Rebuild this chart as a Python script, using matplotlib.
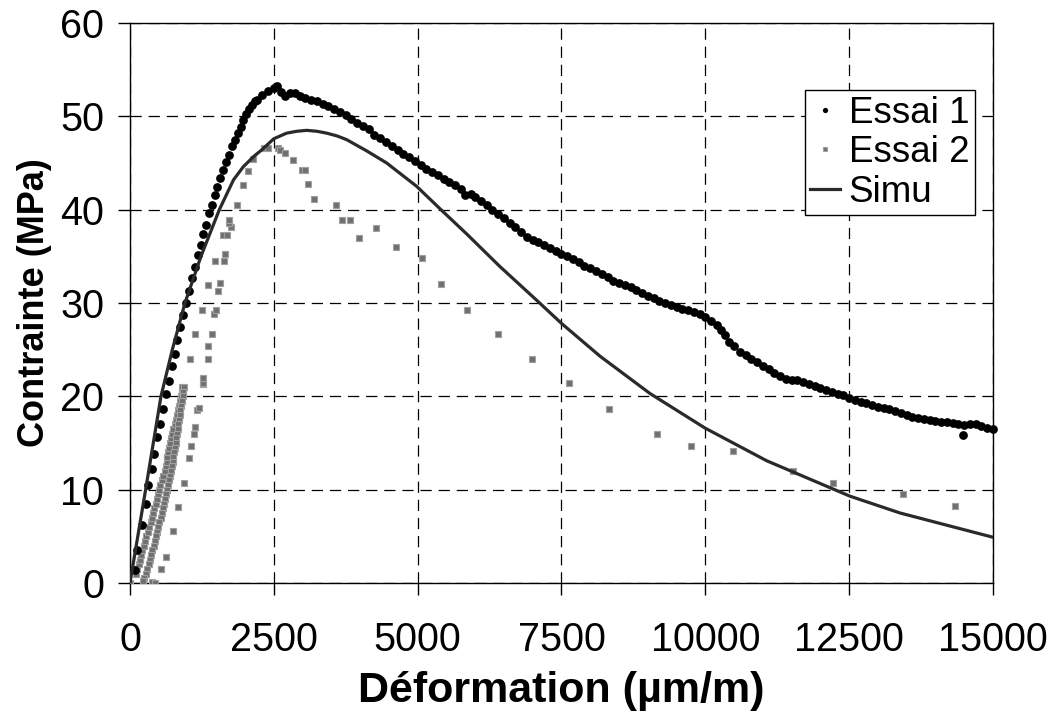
import matplotlib
matplotlib.use("Agg")
import matplotlib.pyplot as plt

## ----------------------------------------------------------------------------
## Data
## ----------------------------------------------------------------------------
## Essai 1 : black dots (rising part spaced, falling part dense)
essai1_x = [87, 116, 203, 272, 318, 377, 423, 475, 527, 579, 631, 678, 730,
            777, 822, 875, 921, 973, 1026, 1078, 1130, 1176, 1228, 1274, 1321,
            1373, 1420, 1472, 1516, 1564, 1611, 1663, 1721, 1773, 1825, 1877,
            1924, 1970, 2016, 2068, 2121, 2173,
            2200, 2300, 2400, 2500, 2560, 2620, 2700, 2780, 2860, 2950, 3050,
            3150, 3250, 3350, 3450, 3550, 3650, 3750, 3850, 3950, 4050, 4150,
            4250, 4350, 4450, 4550, 4650, 4750, 4850, 4950, 5050, 5150, 5250,
            5350, 5450, 5550, 5650, 5750, 5830, 5920, 6000, 6100, 6200, 6300,
            6400, 6500, 6600, 6700, 6800, 6900, 7000, 7100, 7200, 7300, 7400,
            7500, 7600, 7700, 7800, 7900, 8000, 8100, 8200, 8300, 8400, 8500,
            8600, 8700, 8800, 8900, 9000, 9100, 9200, 9300, 9400, 9500, 9600,
            9700, 9800, 9900, 10000, 10100, 10200, 10280, 10340, 10420, 10500,
            10600, 10700, 10800, 10900, 11000, 11100, 11200, 11300, 11400,
            11500, 11600, 11700, 11800, 11900, 12000, 12100, 12200, 12300,
            12400, 12500, 12600, 12700, 12800, 12900, 13000, 13100, 13200,
            13300, 13400, 13500, 13600, 13700, 13800, 13900, 14000, 14100,
            14200, 14300, 14400, 14480, 14500, 14600, 14700, 14800, 14900, 15000]
essai1_y = [1.4, 3.5, 6.2, 8.5, 10.5, 12.2, 13.8, 15.6, 17.0, 18.6, 20.2, 21.6,
            23.2, 24.5, 26.0, 27.4, 28.7, 30.0, 31.3, 32.7, 33.9, 35.1, 36.2,
            37.4, 38.4, 39.6, 40.5, 41.6, 42.4, 43.4, 44.2, 45.1, 45.9, 46.8,
            47.5, 48.2, 48.9, 49.6, 50.2, 50.8, 51.2, 51.6,
            51.8, 52.3, 52.7, 53.0, 53.2, 52.6, 52.2, 52.5, 52.5, 52.2, 52.0,
            51.8, 51.6, 51.3, 51.1, 50.8, 50.5, 50.1, 49.7, 49.3, 49.0, 48.6,
            48.0, 47.7, 47.3, 46.8, 46.4, 46.0, 45.6, 45.2, 44.8, 44.4, 44.0,
            43.7, 43.3, 43.0, 42.6, 42.2, 41.6, 41.7, 41.4, 40.9, 40.5, 40.0,
            39.5, 39.1, 38.6, 38.1, 37.6, 37.1, 36.8, 36.5, 36.2, 35.9, 35.6,
            35.3, 35.0, 34.7, 34.4, 34.0, 33.7, 33.4, 33.1, 32.8, 32.4, 32.1,
            31.9, 31.7, 31.4, 31.1, 30.8, 30.5, 30.2, 30.0, 29.8, 29.6, 29.4,
            29.2, 29.0, 28.8, 28.5, 28.1, 27.6, 27.1, 26.6, 25.8, 25.4,
            24.8, 24.4, 24.0, 23.7, 23.3, 22.9, 22.5, 22.2, 21.9,
            21.8, 21.7, 21.5, 21.3, 21.1, 20.9, 20.7, 20.5, 20.3,
            20.1, 19.8, 19.6, 19.4, 19.3, 19.1, 18.9, 18.8, 18.6,
            18.4, 18.2, 18.0, 17.8, 17.7, 17.6, 17.5, 17.4, 17.3,
            17.2, 17.1, 17.0, 15.9, 16.9, 17.0, 17.0, 16.8, 16.6, 16.5]

## Essai 2 : grey squares, first the loading/unloading loop near the origin
loop_up_x = [100, 125, 150, 172, 194, 216, 238, 258, 282, 308, 335, 362, 386,
             406, 426, 446, 466, 488, 510, 530, 550, 572, 604, 620, 636, 652,
             668, 684, 700, 718, 736, 756, 776, 796, 816, 840, 854, 868, 882,
             896, 909]
loop_up_y = [1.0, 1.5, 2.0, 2.5, 3.0, 3.5, 4.0, 4.5, 5.0, 5.5, 6.0, 6.5, 7.0,
             7.5, 8.0, 8.5, 9.0, 9.5, 10.0, 10.5, 11.0, 11.5, 12.0, 12.5, 13.0,
             13.5, 14.0, 14.5, 15.0, 15.5, 16.0, 16.5, 17.0, 17.5, 18.0, 18.5,
             19.0, 19.5, 20.0, 20.5, 21.0]
loop_down_x = [940, 929, 916, 903, 890, 877, 864, 852, 840, 828, 816, 804, 792,
               780, 766, 753, 740, 726, 712, 698, 681, 663, 645, 626, 608, 590,
               571, 551, 531, 511, 491, 471, 451, 430, 410, 390, 369, 348, 324,
               298, 272, 245, 232]
loop_down_y = [21.0, 20.5, 20.0, 19.5, 19.0, 18.5, 18.0, 17.5, 17.0, 16.5,
               16.0, 15.5, 15.0, 14.5, 14.0, 13.5, 13.0, 12.5, 12.0, 11.5, 11.0,
               10.5, 10.0, 9.5, 9.0, 8.5, 8.0, 7.5, 7.0, 6.5, 6.0, 5.5, 5.0, 4.5,
               4.0, 3.5, 3.0, 2.5, 2.0, 1.5, 1.0, 0.5, 0.2]

## then the scattered points of the reloading and softening
essai2_x = [0, 377, 435, 539, 620, 753, 840, 944, 1031, 1054, 1118, 1124, 1159,
            1199, 1275, 1269, 1263, 1043, 1135, 1246, 1356, 1361, 1424, 1465,
            1500, 1361, 1523, 1558, 1477, 1633, 1656, 1616, 1691, 1755, 1721,
            1721, 1860, 1958, 2056, 2143, 2329, 2404, 2567, 2607, 2694, 2839,
            2984, 3042, 3100, 3193, 3580, 3678, 3830, 3974, 4276, 4624, 5070,
            5410, 5852, 6397, 6988, 7631, 8320, 9160, 9745, 10487, 11517,
            12212, 13442, 14335]
essai2_y = [0.0, 0.1, 0.0, 1.5, 2.8, 5.6, 8.1, 10.7, 13.4, 14.7, 16.0, 16.7,
            18.5, 18.8, 21.3, 21.4, 22.0, 24.0, 26.7, 29.2, 24.0, 25.4, 26.7,
            28.8, 29.3, 31.9, 31.3, 32.1, 34.5, 34.5, 35.3, 37.3, 37.3, 38.1,
            38.6, 38.9, 40.5, 42.6, 44.1, 45.4, 46.6, 46.6, 46.6, 46.4, 46.1,
            45.3, 44.3, 44.3, 42.8, 41.1, 40.5, 38.9, 38.9, 37.0, 38.0, 36.0,
            34.8, 32.0, 29.2, 26.7, 24.0, 21.4, 18.6, 16.0, 14.7, 14.1, 12.0,
            10.7, 9.5, 8.2]

## Simu : smooth curve
simu_x = [0, 272, 539, 736, 956, 1234, 1553, 1800, 1970, 2150, 2289, 2500,
          2723, 2900, 3071, 3250, 3419, 3600, 3767, 4114, 4462, 4983, 5388,
          5852, 6431, 7068, 7503, 8170, 9039, 9995, 11066, 12515, 13385, 15000]
simu_y = [0.0, 10.0, 20.0, 25.0, 30.0, 35.0, 40.0, 43.2, 44.6, 45.7, 46.4,
          47.6, 48.2, 48.4, 48.5, 48.4, 48.2, 47.9, 47.5, 46.3, 45.0, 42.5,
          40.1, 37.4, 33.9, 30.3, 27.8, 24.3, 20.3, 16.6, 13.1, 9.3, 7.5, 4.9]

x_ticks = [0, 2500, 5000, 7500, 10000, 12500, 15000]
y_ticks = [0, 10, 20, 30, 40, 50, 60]


## ----------------------------------------------------------------------------
## Plot
## ----------------------------------------------------------------------------
def main():
    plt.rcParams['font.family'] = ['Liberation Sans', 'DejaVu Sans']

    fig = plt.figure(figsize=(10.49, 7.17), dpi=100)
    ax = fig.add_axes([0.1239, 0.1869, 0.8227, 0.7810])

    grey = '#707070'
    sq = dict(color=grey, markeredgecolor='#a0a0a0', markersize=4.8,
              markeredgewidth=0.8, zorder=3)
    ## Essai 2 loop first so the black data stays on top
    ax.plot(loop_up_x, loop_up_y, 's', **sq)
    ax.plot(loop_down_x, loop_down_y, 's', **sq)
    ax.plot(essai2_x, essai2_y, 's', label='Essai 2', **sq)

    ax.plot(essai1_x, essai1_y, 'o', color='black', markersize=6.3,
            markeredgewidth=0, zorder=4, label='Essai 1', clip_on=False)

    ax.plot(simu_x, simu_y, '-', color='#2a2a2a', linewidth=2.3, zorder=5,
            label='Simu')

    ax.set_xlim(0, 15000)
    ax.set_ylim(0, 60)
    ax.set_xticks(x_ticks)
    ax.set_yticks(y_ticks)

    ## dashed grid
    ax.grid(True, color='black', linewidth=0.9, linestyle=(0, (9, 5.5)))
    ax.set_axisbelow(True)

    for sp in ax.spines.values():
        sp.set_linewidth(1.0)
        sp.set_color('black')

    ax.tick_params(axis='both', direction='out', length=8.5, width=1.0,
                   labelsize=28.5)
    ax.tick_params(axis='x', pad=19)
    ax.tick_params(axis='y', pad=10)

    ax.set_xlabel('Déformation (µm/m)', fontsize=31, fontweight='bold')
    ax.set_ylabel('Contrainte (MPa)', fontsize=26, fontweight='bold')
    ax.xaxis.set_label_coords(0.5, -0.158)
    ax.yaxis.set_label_coords(-0.090, 0.5)

    ## legend in the order of the reference
    handles, labels = ax.get_legend_handles_labels()
    order = [labels.index('Essai 1'), labels.index('Essai 2'), labels.index('Simu')]
    leg = ax.legend([handles[i] for i in order], [labels[i] for i in order],
                    loc='upper right', bbox_to_anchor=(0.979, 0.880),
                    borderaxespad=0, fontsize=26.5, fancybox=False,
                    framealpha=1, edgecolor='black', handlelength=0.8,
                    handletextpad=0.25, borderpad=0.15, labelspacing=0.12,
                    markerscale=0.6)
    leg.get_frame().set_linewidth(1.0)

    fig.savefig('out.png', dpi=100)


if __name__ == "__main__":
    main()
